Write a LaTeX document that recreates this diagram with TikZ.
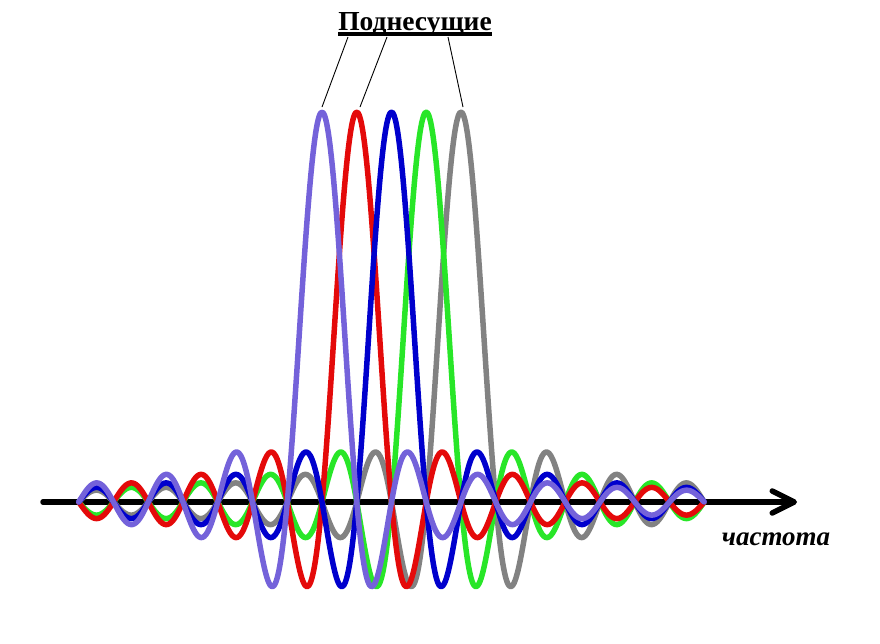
\documentclass[tikz,border=0pt]{standalone}
\usepackage{fontspec}
\setmainfont{Liberation Serif}
\usetikzlibrary{positioning,arrows.meta}
\definecolor{subviolet}{RGB}{116,98,218}
\definecolor{subred}{RGB}{228,10,10}
\definecolor{subblue}{RGB}{0,0,205}
\definecolor{subgreen}{RGB}{40,230,40}
\definecolor{subgray}{RGB}{130,130,130}
\newcommand{\thickul}[1]{\setbox0\hbox{#1}\rlap{\rule[-5.5pt]{\wd0}{3.2pt}}\box0}
\tikzset{
  %% curves
  carrier/.style = {line width=5.5pt, line join=round, line cap=round, smooth},
  %% axis
  faxis/.style   = {line width=5.5pt, line cap=round,
                    -{Straight Barb[length=22pt, width=22pt, line cap=round, line join=round]}},
  leader/.style  = {draw=black, line width=0.9pt},
  %% texts
  ttl/.style     = {font=\bfseries\fontsize{27.5}{31}\selectfont, inner sep=0pt},
  axlbl/.style   = {font=\bfseries\itshape\fontsize{27}{31}\selectfont, inner sep=0pt},
  declare function = {snc(\u) = sin(180*\u)/(pi*\u);},
}
\begin{document}
\begin{tikzpicture}[x=1pt, y=-1pt]
\useasboundingbox (0,0) rectangle (880,643);

%% ============ frequency axis ============
\coordinate (fstart) at (43,502);
\coordinate (fend)   at (797,502);
\draw[faxis] (fstart) -- (fend);

%% ============ subcarriers (sinc, spacing 34.75) ============
\foreach \k/\col in {4/subgray, 3/subgreen, 1/subred, 2/subblue, 0/subviolet} {
  \draw[carrier, draw=\col] plot[domain=0:18, samples=360]
    ({78.75+34.75*\x}, {502-390*snc(\x-7-\k)});
}

%% ============ peaks and labels ============
\coordinate (pk0) at (322,107);
\coordinate (pk1) at (360,107);
\coordinate (pk4) at (463,107);
\node[ttl, anchor=base] (title) at (415,30) {\thickul{Поднесущие}};
\coordinate (t0) at (348,37);
\coordinate (t1) at (387,37);
\coordinate (t4) at (448,37);
\draw[leader] (t0) -- (pk0);
\draw[leader] (t1) -- (pk1);
\draw[leader] (t4) -- (pk4);

\node[axlbl, anchor=base] (flbl) at (776,545) {частота};

\end{tikzpicture}
\end{document}
